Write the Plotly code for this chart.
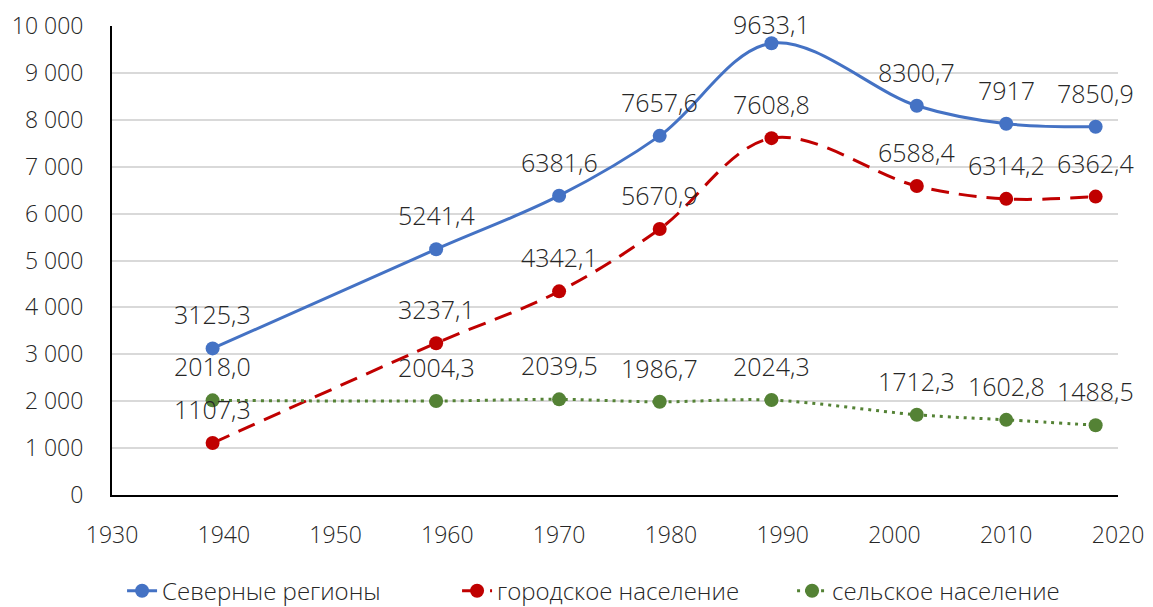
import plotly.graph_objects as go

years = [1939, 1959, 1970, 1979, 1989, 2002, 2010, 2018]
north = [3125.3, 5241.4, 6381.6, 7657.6, 9633.1, 8300.7, 7917, 7850.9]
urban = [1107.3, 3237.1, 4342.1, 5670.9, 7608.8, 6588.4, 6314.2, 6362.4]
rural = [2018.0, 2004.3, 2039.5, 1986.7, 2024.3, 1712.3, 1602.8, 1488.5]
names = ["Северные регионы", "городское население", "сельское население"]
colors = ["#4472C4", "#C00000", "#548235"]
dashes = ["solid", "18px,10px", "3px,5px"]

FONT = "Segoe UI Light, Open Sans, sans-serif"
TXT = "#262626"
FS_TICK = 23
FS_LABEL = 25
FS_LEG = 24
W = 300

H, MT, MB = 607, 26, 112
YMAX = 10000
plot_h = H - MT - MB

fig = go.Figure()
annotations = []
for name, vals, col, dash in zip(names, [north, urban, rural], colors, dashes):
    fig.add_trace(go.Scatter(
        x=years, y=vals, name=name, mode="lines+markers",
        line=dict(color=col, width=3, dash=dash, shape="spline", smoothing=1.0),
        marker=dict(color=col, size=14, symbol="circle"),
    ))
    for xv, yv in zip(years, vals):
        # keep label inside the figure (as the original does near the top)
        px = MT + (YMAX - yv) / YMAX * plot_h
        shift = min(34, px - 24)
        annotations.append(dict(
            x=xv, y=yv, text=str(yv).replace(".", ","), showarrow=False,
            yshift=shift, xanchor="center", yanchor="middle",
            font=dict(family=FONT, size=FS_LABEL, color=TXT, weight=W),
        ))

fig.update_layout(
    width=1153, height=H,
    margin=dict(l=112, r=35, t=MT, b=MB, autoexpand=False),
    paper_bgcolor="white", plot_bgcolor="white",
    separators=", ",
    font=dict(family=FONT, size=FS_TICK, color=TXT, weight=W),
    annotations=annotations,
    showlegend=True,
    legend=dict(orientation="h", x=0.01, y=-0.205, xanchor="left", yanchor="middle",
                font=dict(family=FONT, size=FS_LEG, color=TXT, weight=W),
                entrywidth=290, entrywidthmode="pixels", traceorder="normal"),
    xaxis=dict(range=[1930, 2020], dtick=10, tick0=1930, showgrid=False,
               showline=True, linecolor="black", linewidth=2, automargin=False,
               ticks="", ticklabelstandoff=18, zeroline=False,
               tickfont=dict(family=FONT, size=FS_TICK, color=TXT, weight=W)),
    yaxis=dict(range=[0, YMAX], dtick=1000, tick0=0, showgrid=True,
               gridcolor="#D9D9D9", gridwidth=2, automargin=False,
               showline=True, linecolor="black", linewidth=2,
               ticks="", ticklabelstandoff=22, zeroline=False,
               tickformat=",d",
               tickfont=dict(family=FONT, size=FS_TICK, color=TXT, weight=W)),
)

fig.write_html("out.html", config={"displayModeBar": False},
               post_script="document.body.style.margin='0';")
